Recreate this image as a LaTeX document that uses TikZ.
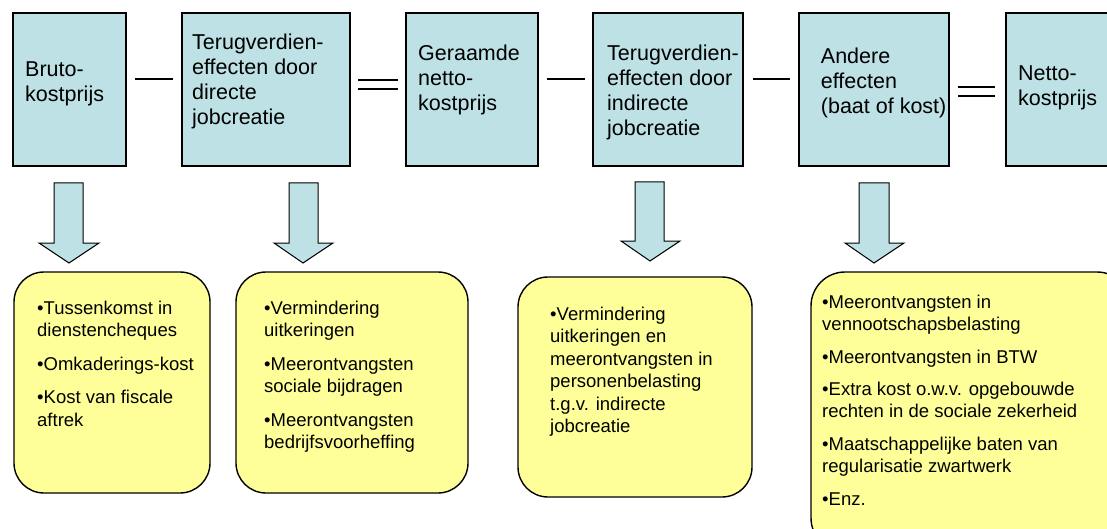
\documentclass[tikz,border=0pt]{standalone}
\usepackage{fontspec}
\setmainfont{Liberation Sans}
\definecolor{boxblue}{RGB}{189,225,229}
\definecolor{noteyellow}{RGB}{255,255,153}
\begin{document}
\begin{tikzpicture}[x=1pt,y=-1pt,
  topbox/.style={draw=black, line width=1.2pt, fill=boxblue, inner sep=0pt, outer sep=0pt, anchor=north west},
  notebox/.style={draw=black, line width=1.4pt, fill=noteyellow, rounded corners=30pt, inner sep=0pt, outer sep=0pt, anchor=north west},
  toptext/.style={anchor=base west, inner sep=0pt, font=\fontsize{21.5}{25}\selectfont},
  notetext/.style={anchor=base west, inner sep=0pt, font=\fontsize{18.5}{22.5}\selectfont},
  opline/.style={line width=1.8pt},
  blockarrow/.style={draw=black, line width=1pt, fill=boxblue, line join=miter}]
\useasboundingbox (0,0) rectangle (1107,529);
\clip (0,0) rectangle (1107,529);
\fill[white] (0,0) rectangle (1107,529);

% top boxes
\node[topbox, minimum width=113pt, minimum height=153pt] (b1) at (13,13) {};
\node[topbox, minimum width=168pt, minimum height=153pt] (b2) at (182,13) {};
\node[topbox, minimum width=132pt, minimum height=153pt] (b3) at (406,13) {};
\node[topbox, minimum width=150pt, minimum height=153pt] (b4) at (593,13) {};
\node[topbox, minimum width=150pt, minimum height=153pt] (b5) at (799,13) {};
\node[topbox, minimum width=130pt, minimum height=153pt] (b6) at (1006,13) {};

\node[toptext] (t1) at (25,76.7) {\parbox[t]{200pt}{\raggedright Bruto-\\kostprijs}};
\node[toptext] (t2) at (192,50) {\parbox[t]{200pt}{\raggedright Terugverdien-\\effecten door\\directe\\jobcreatie}};
\node[toptext] (t3) at (418,60.5) {\parbox[t]{200pt}{\raggedright Geraamde\\netto-\\kostprijs}};
\node[toptext] (t4) at (607,61) {\parbox[t]{200pt}{\raggedright Terugverdien-\\effecten door\\indirecte\\jobcreatie}};
\node[toptext] (t5) at (820.7,63.3) {\parbox[t]{200pt}{\raggedright Andere\\effecten\\(baat of kost)}};
\node[toptext] (t6) at (1018,81) {\parbox[t]{200pt}{\raggedright Netto-\\kostprijs}};

% operators
\draw[opline] (135,79) -- (173,79);
\draw[opline] (358,80) -- (398,80);
\draw[opline] (358,89) -- (398,89);
\draw[opline] (547,79) -- (585,79);
\draw[opline] (753,79) -- (790,79);
\draw[opline] (958,87) -- (995,87);
\draw[opline] (958,96) -- (995,96);

% block arrows
\draw[blockarrow] (54,183) -- (83,183) -- (83,243) -- (99,243) -- (69,263) -- (39,243) -- (54,243) -- cycle;
\draw[blockarrow] (289,183) -- (318,183) -- (318,243) -- (333,243) -- (303,263) -- (274,243) -- (289,243) -- cycle;
\draw[blockarrow] (635,182) -- (664,182) -- (664,241) -- (680,241) -- (650,261) -- (621,241) -- (635,241) -- cycle;
\draw[blockarrow] (859,183) -- (889,183) -- (889,243) -- (904,243) -- (874,263) -- (845,243) -- (859,243) -- cycle;

% note boxes
\node[notebox, minimum width=196pt, minimum height=221pt] (nA) at (14,272) {};
\node[notebox, minimum width=232pt, minimum height=221pt] (nB) at (236,272) {};
\node[notebox, minimum width=234pt, minimum height=220pt] (nC) at (518,277) {};
\node[notebox, minimum width=320pt, minimum height=280pt, rounded corners=34pt] (nD) at (811,272) {};

\node[notetext] (sA) at (37,314) {\parbox[t]{190pt}{\raggedright
  •Tussenkomst in\\dienstencheques\\[11pt]
  •Omkaderings-kost\\[11pt]
  •Kost van fiscale\\aftrek}};
\node[notetext] (sB) at (264,314) {\parbox[t]{200pt}{\raggedright
  •Vermindering\\uitkeringen\\[11pt]
  •Meerontvangsten\\sociale bijdragen\\[11pt]
  •Meerontvangsten\\bedrijfsvoorheffing}};
\node[notetext] (sC) at (550,320) {\parbox[t]{200pt}{\raggedright
  •Vermindering\\uitkeringen en\\meerontvangsten in\\personenbelasting\\t.g.v. indirecte\\jobcreatie}};
\node[notetext, font=\fontsize{18.5}{22}\selectfont] (sD) at (822,308.3) {\parbox[t]{290pt}{\raggedright
  •Meerontvangsten in\\vennootschapsbelasting\\[11pt]
  •Meerontvangsten in BTW\\[10pt]
  •Extra kost o.w.v. opgebouwde\\rechten in de sociale zekerheid\\[11pt]
  •Maatschappelijke baten van\\regularisatie zwartwerk\\[11pt]
  •Enz.}};
\end{tikzpicture}
\end{document}
